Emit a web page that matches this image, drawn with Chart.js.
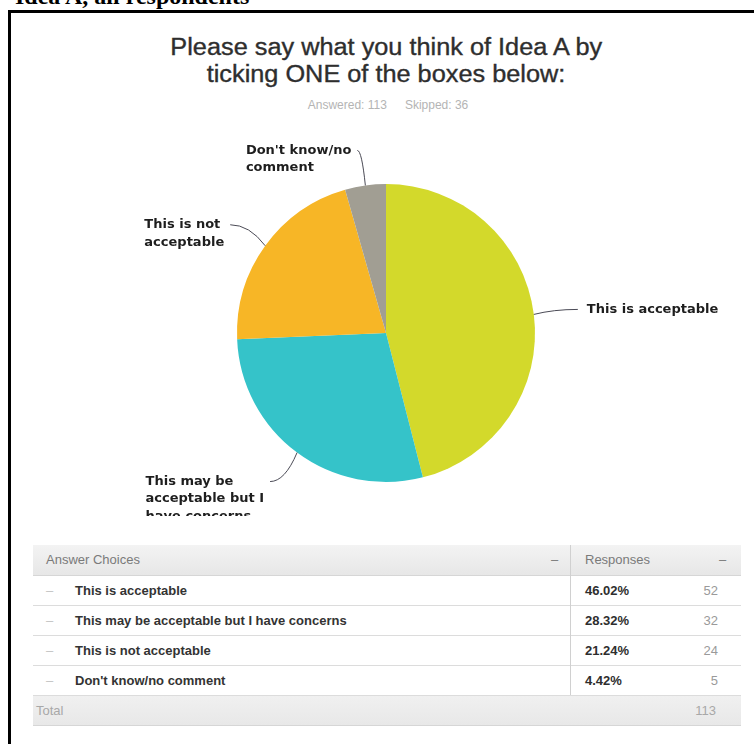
<!DOCTYPE html>
<html>
<head>
<meta charset="utf-8">
<script src="https://cdn.jsdelivr.net/npm/chart.js@4.4.1/dist/chart.umd.min.js"></script>
<style>
  html, body { margin: 0; padding: 0; background: #fff; }
  body { width: 754px; height: 744px; position: relative; overflow: hidden; font-family: "Liberation Sans", Arial, sans-serif; }
  #heading { position: absolute; left: 15px; top: -16px; font: bold 24px/24px "Liberation Serif", "Times New Roman", serif; color: #000; white-space: nowrap; }
  #frame { position: absolute; left: 8px; top: 10px; width: 800px; height: 800px; border-left: 3px solid #000; border-top: 3px solid #000; }
  #title { position: absolute; left: 12px; width: 748px; top: 34px; text-align: center; font-size: 23px; line-height: 27px; color: #2e2e2e; -webkit-text-stroke: 0.35px #2e2e2e; }
  #title span { display: inline-block; transform: scaleX(1.1); }
  #meta { position: absolute; left: 12px; width: 752px; top: 97px; text-align: center; font-size: 12px; line-height: 16px; color: #b4b4b4; }
  #meta span + span { margin-left: 18px; }
  #pieWrap { position: absolute; left: 12px; top: 130px; width: 734px; height: 386px; }
  #tbl { position: absolute; left: 33px; top: 545px; width: 708px; font-size: 13px; }
  .row { position: relative; height: 29px; border-bottom: 1px solid #dcdcdc; }
  .row div { position: absolute; top: 0; line-height: 29px; white-space: nowrap; }
  .head { height: 30px; background: linear-gradient(#f3f3f3, #e7e7e7); border-bottom: 1px solid #d6d6d6; }
  .head div { line-height: 30px; color: #7a7a7a; }
  .total { background: linear-gradient(#f0f0f0, #e8e8e8); border-bottom: 1px solid #d6d6d6; }
  .divider { position: absolute; left: 537px; top: 0; width: 1px; height: 150px; background: #d0d0d0; }
  .dash { color: #c4c4c4; }
  .lbl { color: #333; font-weight: bold; }
  .pct { color: #2e2e2e; font-weight: bold; }
  .cnt { color: #9a9a9a; text-align: right; }
</style>
</head>
<body>
<div id="heading">Idea A, all respondents</div>
<div id="frame"></div>
<div id="title"><span>Please say what you think of Idea A by</span><br><span>ticking ONE of the boxes below:</span></div>
<div id="meta"><span id="answered"></span><span id="skipped"></span></div>
<div id="pieWrap"><canvas id="pie" width="734" height="386"></canvas></div>
<div id="tbl"></div>

<script>
// Survey answers for Idea A
const categories = [
  'This is acceptable',
  'This may be acceptable but I have concerns',
  'This is not acceptable',
  "Don't know/no comment"
];
const responses = [52, 32, 24, 5];
const answeredCount = 113;
const skippedCount = 36;
const sliceColors = ['#d3d92b', '#35c3c9', '#f7b626', '#a19e93'];

const total = responses.reduce((a, b) => a + b, 0);
const pctText = v => (v / total * 100).toFixed(2) + '%';

document.getElementById('answered').textContent = 'Answered: ' + answeredCount;
document.getElementById('skipped').textContent = 'Skipped: ' + skippedCount;

// Answer table
(function buildTable() {
  const t = document.getElementById('tbl');
  let html = '<div class="row head"><div style="left:13px">Answer Choices</div>' +
    '<div class="dash" style="left:518px">–</div>' +
    '<div style="left:552px">Responses</div>' +
    '<div class="dash" style="left:686px">–</div></div>';
  categories.forEach((c, i) => {
    html += '<div class="row"><div class="dash" style="left:13px">–</div>' +
      '<div class="lbl" style="left:42px">' + c + '</div>' +
      '<div class="pct" style="left:552px">' + pctText(responses[i]) + '</div>' +
      '<div class="cnt" style="right:23px">' + responses[i] + '</div></div>';
  });
  html += '<div class="row total"><div style="left:3px;color:#a8a8a8">Total</div>' +
    '<div class="cnt" style="right:25px;color:#a8a8a8">' + answeredCount + '</div></div>';
  html += '<div class="divider"></div>';
  t.innerHTML = html;
})();

// Outside labels joined to each slice by a thin connector
const outsideLabels = {
  id: 'outsideLabels',
  afterDatasetsDraw(chart, args, opts) {
    const ctx = chart.ctx;
    const meta = chart.getDatasetMeta(0);
    ctx.save();
    ctx.font = opts.font;
    ctx.textBaseline = 'middle';
    meta.data.forEach((arc, i) => {
      const p = arc.getProps(['x', 'y', 'startAngle', 'endAngle', 'outerRadius'], true);
      const mid = (p.startAngle + p.endAngle) / 2;
      const ex = p.x + Math.cos(mid) * p.outerRadius;
      const ey = p.y + Math.sin(mid) * p.outerRadius;
      const off = opts.offsets[i];
      const lx = ex + off[0];
      const ly = ey + off[1];
      const right = lx > p.x;

      ctx.strokeStyle = opts.lineColor;
      ctx.lineWidth = 1;
      ctx.beginPath();
      ctx.moveTo(lx, ly);
      ctx.quadraticCurveTo(lx + (ex - lx) * 0.55, ly, ex, ey);
      ctx.stroke();

      const maxW = right ? chart.width - lx - opts.gapRight - 4 : opts.maxWidthLeft;
      const words = chart.data.labels[i].split(' ');
      const lines = [];
      let cur = '';
      words.forEach(w => {
        const test = cur ? cur + ' ' + w : w;
        if (cur && ctx.measureText(test).width > maxW) { lines.push(cur); cur = w; }
        else cur = test;
      });
      if (cur) lines.push(cur);
      const blockW = Math.max(...lines.map(l => ctx.measureText(l).width));
      const tx = right ? lx + opts.gapRight : lx - opts.gapLeft - blockW;
      ctx.fillStyle = opts.color;
      ctx.textAlign = 'left';
      lines.forEach((l, k) => ctx.fillText(l, tx, ly + k * opts.lineHeight));
    });
    ctx.restore();
  }
};

new Chart(document.getElementById('pie'), {
  type: 'pie',
  data: {
    labels: categories,
    datasets: [{
      data: responses,
      backgroundColor: sliceColors,
      borderWidth: 0,
      hoverOffset: 0
    }]
  },
  options: {
    responsive: false,
    animation: false,
    events: [],
    layout: { padding: { left: 225, right: 211, top: 54, bottom: 34 } },
    plugins: {
      legend: { display: false },
      tooltip: { enabled: false },
      outsideLabels: {
        font: 'bold 13px "DejaVu Sans", sans-serif',
        color: '#1e1e1e',
        lineColor: '#4a4a55',
        lineHeight: 17.5,
        gapLeft: 6,
        gapRight: 9,
        maxWidthLeft: 125,
        offsets: [[44, -5], [-27, 29], [-35, -21], [-8, -35]]
      }
    }
  },
  plugins: [outsideLabels]
});
</script>
</body>
</html>
